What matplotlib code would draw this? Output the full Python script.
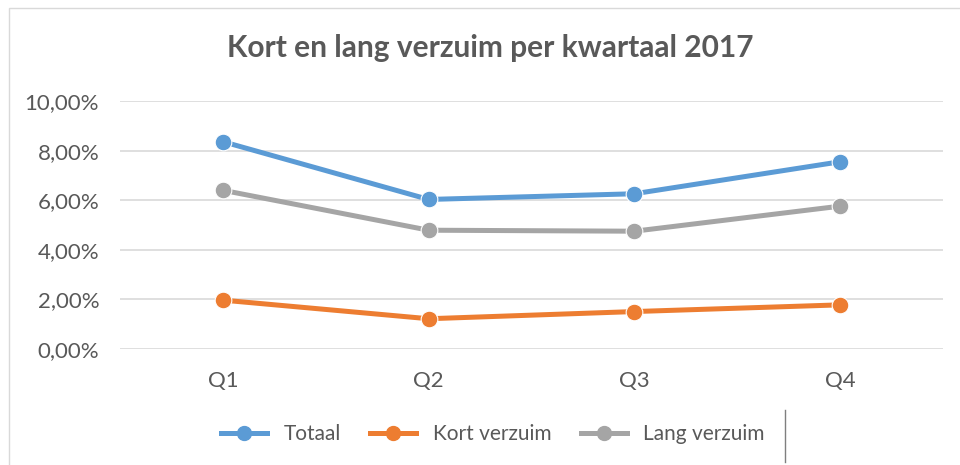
"""Kort en lang verzuim per kwartaal 2017"""

import matplotlib.pyplot as plt
from matplotlib.patches import Rectangle
from matplotlib.lines import Line2D
from matplotlib.ticker import FuncFormatter

quarters = ["Q1", "Q2", "Q3", "Q4"]
totaal = [8.36, 6.03, 6.26, 7.55]
kort_verzuim = [1.97, 1.22, 1.51, 1.78]
lang_verzuim = [6.40, 4.79, 4.75, 5.76]
y_ticks = [0, 2, 4, 6, 8, 10]

series = [
    ("Totaal", totaal, "#5B9BD5"),
    ("Kort verzuim", kort_verzuim, "#ED7D31"),
    ("Lang verzuim", lang_verzuim, "#A5A5A5"),
]

plt.rcParams['font.family'] = ['Lato', 'DejaVu Sans']
text_color = "#595959"

fig = plt.figure(figsize=(9.6, 4.65), dpi=100)

# chart frame (partly cut off by the screenshot)
fig.patches.append(Rectangle((9 / 960, -0.05), 1.1, 1 - 8 / 465 + 0.05,
                             transform=fig.transFigure, fill=False,
                             edgecolor="#D9D9D9", linewidth=1))

ax = fig.add_axes([120 / 960, 1 - 349 / 465, 823 / 960, (349 - 101) / 465])

x = range(len(quarters))
for name, values, color in series:
    ax.plot(x, values, color=color, linewidth=3.6, marker="o", markersize=12,
            markeredgecolor="white", markeredgewidth=0.8, label=name,
            solid_capstyle="round", zorder=3)

ax.set_xlim(-0.5, len(quarters) - 0.5)
ax.set_ylim(0, 10)
ax.set_yticks(y_ticks)
ax.yaxis.set_major_formatter(FuncFormatter(lambda v, p: f"{v:.2f}%".replace(".", ",")))
ax.set_xticks(list(x))
ax.set_xticklabels(quarters)
ax.tick_params(axis="both", length=0, labelsize=16, labelcolor=text_color)
ax.tick_params(axis="y", pad=15)
ax.tick_params(axis="x", pad=16)
ax.grid(axis="y", color="#D9D9D9", linewidth=1.2, zorder=0)
for side in ax.spines.values():
    side.set_visible(False)

fig.text(490 / 960, 1 - 48 / 465, "Kort en lang verzuim per kwartaal 2017",
         ha="center", va="center", fontsize=21.5, fontweight="bold",
         color=text_color)

handles = [Line2D([], [], color=c, linewidth=3.6, marker="o", markersize=10,
                  markeredgecolor=c) for _, _, c in series]
fig.legend(handles, [n for n, _, _ in series], loc="center",
           bbox_to_anchor=(493 / 960, 1 - 434 / 465), ncol=3, frameon=False,
           fontsize=15, labelcolor=text_color, handlelength=2.2,
           columnspacing=1.4, handletextpad=0.8)

# stray vertical line from the screenshot
fig.add_artist(Line2D([785 / 960, 785 / 960], [1 - 410 / 465, 1 - 462 / 465],
                      transform=fig.transFigure, color="#7F7F7F", linewidth=1))

plt.savefig("out.png", dpi=100)
plt.close()
